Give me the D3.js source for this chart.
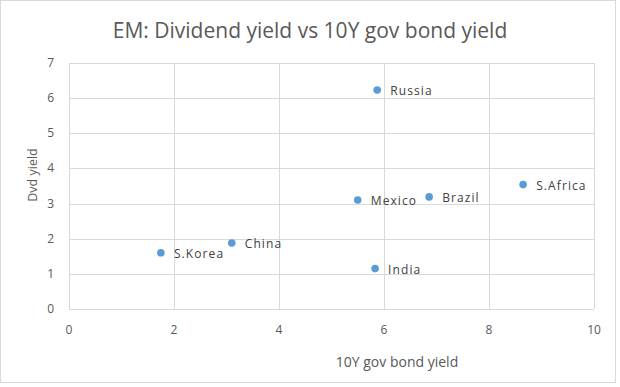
<!DOCTYPE html>
<html>
<head>
<meta charset="utf-8">
<script src="https://cdn.jsdelivr.net/npm/d3@7"></script>
<style>
  body { margin: 0; background: #fff; }
  svg { font-family: "Open Sans", "Liberation Sans", sans-serif; }
  .frame { fill: none; stroke: #d9d9d9; }
  .grid line { stroke: #d9d9d9; stroke-width: 1; }
  .tick-label { fill: #595959; font-size: 12px; }
  .title { fill: #595959; font-size: 21px; }
  .axis-title { fill: #595959; font-size: 12.5px; }
  .axis-title.x { font-size: 14px; }
  .label { fill: #404040; font-size: 12px; letter-spacing: 1.1px; }
</style>
</head>
<body>
<div id="chart"></div>
<script>
// data
const countries = ['S.Korea', 'China', 'Mexico', 'India', 'Russia', 'Brazil', 'S.Africa'];
const bondYield = [1.75, 3.10, 5.50, 5.83, 5.87, 6.86, 8.65];
const dvdYield = [1.60, 1.88, 3.10, 1.15, 6.23, 3.19, 3.54];
const xTicks = [0, 2, 4, 6, 8, 10];
const yTicks = [0, 1, 2, 3, 4, 5, 6, 7];

const data = countries.map((c, i) => ({name: c, x: bondYield[i], y: dvdYield[i]}));

const width = 620, height = 387;
const margin = {t: 63, r: 26, b: 78, l: 69};

const svg = d3.select('#chart')
    .append('svg')
    .attr('width', width)
    .attr('height', height);

// outer frame
svg.append('rect')
    .attr('class', 'frame')
    .attr('x', 0.5).attr('y', 0.5)
    .attr('width', 615).attr('height', 382);

// title
svg.append('text')
    .attr('class', 'title')
    .attr('x', 310)
    .attr('y', 38)
    .attr('text-anchor', 'middle')
    .text('EM: Dividend yield vs 10Y gov bond yield');

// scales
const scaleX = d3.scaleLinear()
    .domain([0, 10])
    .range([margin.l, width - margin.r]);

const scaleY = d3.scaleLinear()
    .domain([0, 7])
    .range([height - margin.b, margin.t]);

// gridlines
const grid = svg.append('g').attr('class', 'grid');
grid.selectAll('.gx')
    .data(xTicks)
    .enter()
    .append('line')
    .attr('x1', d => Math.round(scaleX(d)) + 0.5)
    .attr('x2', d => Math.round(scaleX(d)) + 0.5)
    .attr('y1', scaleY(0))
    .attr('y2', scaleY(7));
grid.selectAll('.gy')
    .data(yTicks)
    .enter()
    .append('line')
    .attr('y1', d => Math.round(scaleY(d)) + 0.5)
    .attr('y2', d => Math.round(scaleY(d)) + 0.5)
    .attr('x1', scaleX(0))
    .attr('x2', scaleX(10));

// tick labels
svg.selectAll('.xt')
    .data(xTicks)
    .enter()
    .append('text')
    .attr('class', 'tick-label')
    .attr('x', d => scaleX(d))
    .attr('y', scaleY(0) + 25)
    .attr('text-anchor', 'middle')
    .text(d => d);

svg.selectAll('.yt')
    .data(yTicks)
    .enter()
    .append('text')
    .attr('class', 'tick-label')
    .attr('x', scaleX(0) - 15)
    .attr('y', d => scaleY(d) + 4)
    .attr('text-anchor', 'end')
    .text(d => d);

// axis titles
svg.append('text')
    .attr('class', 'axis-title x')
    .attr('x', 397)
    .attr('y', 367)
    .attr('text-anchor', 'middle')
    .text('10Y gov bond yield');

svg.append('text')
    .attr('class', 'axis-title')
    .attr('transform', 'translate(37,175) rotate(-90)')
    .attr('text-anchor', 'middle')
    .text('Dvd yield');

// points
svg.selectAll('.dot')
    .data(data)
    .enter()
    .append('circle')
    .attr('class', 'dot')
    .attr('cx', d => scaleX(d.x))
    .attr('cy', d => scaleY(d.y))
    .attr('r', 3.8)
    .style('fill', '#5b9bd5');

// labels
svg.selectAll('.label')
    .data(data)
    .enter()
    .append('text')
    .attr('class', 'label')
    .attr('x', d => scaleX(d.x) + 13)
    .attr('y', d => scaleY(d.y) + 5)
    .text(d => d.name);
</script>
</body>
</html>
